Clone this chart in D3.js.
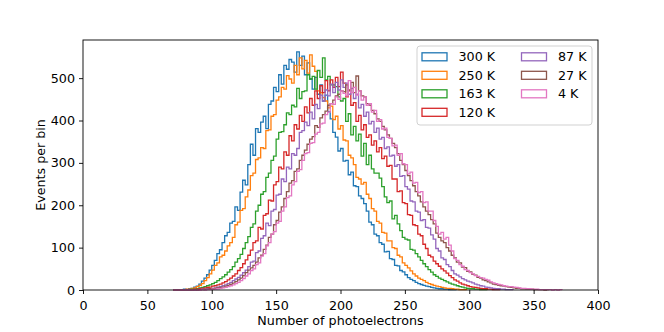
<!DOCTYPE html>
<html>
<head>
<meta charset="utf-8">
<script src="https://cdn.jsdelivr.net/npm/d3@7"></script>
<style>
  body { margin: 0; background: #fff; }
  text { font-family: "DejaVu Sans", sans-serif; }
</style>
</head>
<body>
<div id="chart"></div>
<script>
// histogram bins: left edge of first bin and bin width (photoelectrons)
var binStart = 70;
var binWidth = 2;

var temperatures = ["300 K", "250 K", "163 K", "120 K", "87 K", "27 K", "4 K"];
var colors = ["#1f77b4", "#ff7f0e", "#2ca02c", "#d62728", "#9467bd", "#8c564b", "#e377c2"];

var xTicks = [0, 50, 100, 150, 200, 250, 300, 350, 400];
var yTicks = [0, 100, 200, 300, 400, 500];

// events per bin
var counts300K = [0,1,0,1,2,1,3,4,7,9, 14,21,28,36,47,58,70,86,95,112,
  128,136,158,162,196,188,231,259,248,296, 344,318,381,372,396,410,381,438,446,478,
  468,508,486,530,521,544,538,514,562,530, 552,508,536,498,474,502,462,484,446,460,
  421,404,372,361,328,334,304,306,272,278, 246,244,222,216,204,186,160,154,132,128,
  112,108,90,91,74,72,58,57,46,43, 36,29,25,22,18,15,13,11,9,8,
  6,5,4,3,3,2,2,1,1,1];

var counts250K = [0,0,1,1,1,2,2,4,5,8, 11,15,22,29,38,47,58,64,78,82,
  92,104,112,124,154,160,188,192,220,236, 270,276,308,312,336,334,376,378,410,414,
  448,456,478,474,506,498,488,530,508,548, 522,542,512,555,528,516,470,466,454,446,
  430,434,402,410,380,388,354,352,318,312, 296,266,262,250,254,226,216,192,186,162,
  158,136,134,116,116,100,98,82,78,64, 58,52,45,38,33,28,25,22,18,15,
  13,11,9,8,6,5,4,4,3,2, 2,1,1,1];

var counts163K = [0,0,0,0,1,1,1,2,2,3, 5,6,8,10,12,15,18,22,27,31,
  36,42,48,55,66,74,84,98,112,126, 148,156,186,200,226,232,266,276,306,316,
  356,372,374,390,418,414,436,432,476,452, 468,470,508,498,504,474,518,502,548,496,
  504,484,484,480,456,446,452,398,416,366, 386,352,368,316,346,296,318,286,276,276,
  264,244,220,206,210,168,176,156,140,124, 120,118,96,94,86,78,70,62,55,48,
  42,36,32,28,25,22,19,16,14,12, 10,8,7,5,4,3,3,2,2,1, 1,1];

var counts120K = [0,0,0,0,0,1,1,1,2,2, 3,4,5,6,7,9,10,12,14,17,
  20,24,28,33,38,46,53,62,71,82, 94,112,116,148,144,176,180,212,210,248,
  256,290,286,326,318,364,352,390,380,412, 398,432,418,452,436,470,452,482,466,494,
  470,496,478,502,480,514,488,456,470,436, 442,398,412,378,390,360,366,342,352,326,
  336,310,316,292,294,262,262,232,234,206, 204,178,176,154,152,132,128,108,98,82,
  78,68,62,56,50,45,40,34,29,24, 21,17,14,12,10,8,7,6,5,4, 3,3,2,2,1,1,1];

var counts87K = [0,0,0,0,0,0,0,1,0,1, 1,2,2,3,3,4,5,7,8,10,
  12,15,18,22,26,30,35,41,47,55, 66,68,88,92,122,128,158,152,186,190,
  224,226,262,256,290,286,322,318,334,372, 376,396,388,420,404,438,428,460,446,472,
  458,486,466,490,472,496,478,488,462,476, 452,462,430,438,410,420,392,398,372,382,
  356,360,334,338,316,318,292,296,268,270, 244,238,210,208,186,184,164,166,148,146,
  130,120,98,92,76,72,60,55,46,38, 35,31,27,24,21,19,17,14,12,10,
  9,7,6,5,4,3,3,2,2,1,1,1];

var counts27K = [0,0,0,0,0,0,0,0,1,0, 1,1,2,2,3,3,4,5,6,7,
  9,11,13,16,20,24,28,34,41,47, 52,58,66,76,82,96,106,124,132,154,
  164,184,196,216,232,252,258,280,286,306, 318,330,344,356,362,388,384,406,414,422,
  436,440,448,458,462,470,468,484,472,490, 466,505,470,458,456,440,436,424,416,404,
  398,386,378,366,358,346,336,322,306,296, 282,270,258,246,232,222,208,196,186,178,
  166,156,134,124,116,112,100,92,82,76, 66,64,54,53,44,43,37,35,30,28,
  24,22,19,17,14,13,11,10,9,8, 7,6,5,4,4,3,3,2,2,2, 1,1,1,1,0,1];

var counts4K = [0,0,0,0,0,0,0,0,0,0, 0,1,0,1,1,2,2,3,4,5,
  6,8,10,12,15,18,22,27,33,38, 46,50,60,64,80,86,104,112,132,138,
  158,162,186,196,218,222,248,256,280,284, 306,322,324,346,348,368,372,392,394,414,
  420,440,438,456,450,470,464,458,494,466, 478,460,470,448,456,436,440,420,424,398,
  402,380,382,360,358,340,342,318,322,298, 296,274,278,252,254,230,232,206,208,186,
  186,164,150,132,136,120,124,106,92,74, 70,60,56,48,46,41,38,34,32,29,
  28,25,23,19,17,15,13,12,10,9, 8,8,7,6,5,4,4,3,3,2, 2,2,1,1,1,1,1,0,1,0,1];

var seriesCounts = [counts300K, counts250K, counts163K, counts120K, counts87K, counts27K, counts4K];

// layout (plot box in pixels)
var width = 664, height = 332;
var plotLeft = 83, plotRight = 598, plotTop = 40, plotBottom = 290;
var fontSize = 12.7;

var svg = d3.select("#chart")
    .append("svg")
    .attr("width", width)
    .attr("height", height);

var xScale = d3.scaleLinear().domain([0, 400]).range([plotLeft, plotRight]);
var yScale = d3.scaleLinear().domain([0, 590]).range([plotBottom, plotTop]);

// step outlines, like histtype="step"
var stepLine = d3.line()
    .x(function(d) { return xScale(d[0]); })
    .y(function(d) { return yScale(d[1]); })
    .curve(d3.curveStepAfter);

seriesCounts.forEach(function(counts, i) {
  var pts = [[binStart, 0]];
  counts.forEach(function(c, j) {
    pts.push([binStart + j * binWidth, c]);
  });
  var end = binStart + counts.length * binWidth;
  pts.push([end, counts[counts.length - 1]]);
  pts.push([end, 0]);
  svg.append("path")
      .attr("d", stepLine(pts))
      .attr("fill", "none")
      .attr("stroke", colors[i])
      .attr("stroke-width", 1.3);
});

// axes
var xAxis = svg.append("g")
    .attr("transform", "translate(0," + plotBottom + ")")
    .call(d3.axisBottom(xScale).tickValues(xTicks).tickSize(4).tickPadding(7));
var yAxis = svg.append("g")
    .attr("transform", "translate(" + plotLeft + ",0)")
    .call(d3.axisLeft(yScale).tickValues(yTicks).tickSize(4).tickPadding(4));

[xAxis, yAxis].forEach(function(ax) {
  ax.select(".domain").remove();
  ax.attr("font-family", "DejaVu Sans").attr("font-size", fontSize);
  ax.selectAll("line").attr("stroke", "#000").attr("stroke-width", 0.9);
  ax.selectAll("text").attr("fill", "#000");
});

// frame
svg.append("rect")
    .attr("x", plotLeft)
    .attr("y", plotTop)
    .attr("width", plotRight - plotLeft)
    .attr("height", plotBottom - plotTop)
    .attr("fill", "none")
    .attr("stroke", "#000")
    .attr("stroke-width", 0.9);

// axis labels
svg.append("text")
    .attr("x", (plotLeft + plotRight) / 2)
    .attr("y", 325)
    .attr("text-anchor", "middle")
    .attr("font-size", fontSize)
    .text("Number of photoelectrons");

svg.append("text")
    .attr("transform", "translate(45," + (plotTop + plotBottom) / 2 + ")rotate(-90)")
    .attr("text-anchor", "middle")
    .attr("font-size", fontSize)
    .text("Events per bin");

// legend
var legend = svg.append("g");
legend.append("rect")
    .attr("x", 417)
    .attr("y", 46)
    .attr("width", 175)
    .attr("height", 79)
    .attr("rx", 3)
    .attr("fill", "#fff")
    .attr("fill-opacity", 0.8)
    .attr("stroke", "#cccccc")
    .attr("stroke-width", 0.9);

temperatures.forEach(function(t, i) {
  var col = i < 4 ? 0 : 1;
  var row = i < 4 ? i : i - 4;
  var px = col === 0 ? 422 : 521.5;
  var cy = 56.8 + row * 18.5;
  legend.append("rect")
      .attr("x", px)
      .attr("y", cy - 4)
      .attr("width", 25)
      .attr("height", 8)
      .attr("fill", "none")
      .attr("stroke", colors[i])
      .attr("stroke-width", 1.3);
  legend.append("text")
      .attr("x", px + 36.5)
      .attr("y", cy)
      .attr("dy", "0.36em")
      .attr("font-size", fontSize)
      .text(t);
});
</script>
</body>
</html>
